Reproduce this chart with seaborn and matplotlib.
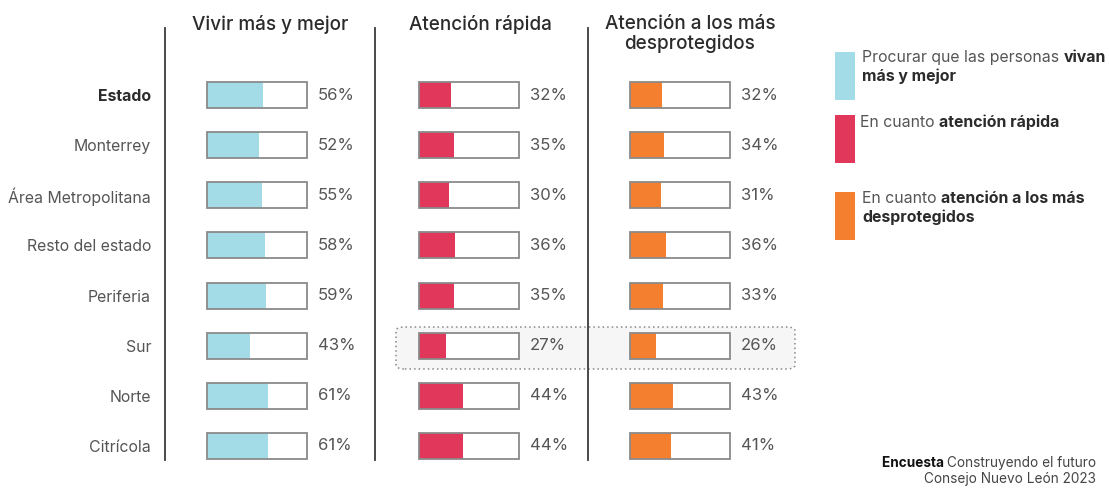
import matplotlib
matplotlib.use("Agg")
import matplotlib.pyplot as plt
from matplotlib.patches import FancyBboxPatch, Rectangle
import seaborn as sns
import pandas as pd

categories = ["Estado", "Monterrey", "Área Metropolitana", "Resto del estado",
              "Periferia", "Sur", "Norte", "Citrícola"]
vivir = [56, 52, 55, 58, 59, 43, 61, 61]
rapida = [32, 35, 30, 36, 35, 27, 44, 44]
desprot = [32, 34, 31, 36, 33, 26, 43, 41]
titles = ["Vivir más y mejor", "Atención rápida", "Atención a los más\ndesprotegidos"]
colors = ["#a3dbe6", "#e0375a", "#f47f2e"]
track_max = 100

sns.set_theme(style="white")
plt.rcParams['font.family'] = ['Inter', 'DejaVu Sans']

W, H = 1109, 488
fig = plt.figure(figsize=(W / 100, H / 100), dpi=100)
fig.patch.set_facecolor("white")

TXT = "#555555"
DARK = "#2b2b2b"


def fx(px):
    return px / W


def fy(py):
    return 1 - py / H


# highlight box around "Sur" row (panels 2 and 3)
hl = FancyBboxPatch((fx(396), fy(369)), fx(795) - fx(396), fy(327) - fy(369),
                    boxstyle="round,pad=0,rounding_size=0.008",
                    transform=fig.transFigure, facecolor="#f6f6f6",
                    edgecolor="#888888", linestyle=(0, (1, 2)), linewidth=1.1,
                    zorder=0)
fig.add_artist(hl)

# panel geometry in pixels: (left line, right edge, track start)
panels = [(165, 375, 207), (375, 588, 419), (588, 800, 630)]
top_px, bot_px = 28, 460
row0, row7 = 95, 446
sp = (row7 - row0) / 7
ylim_top = -(row0 - top_px) / sp
ylim_bot = 7 + (bot_px - row7) / sp
bar_h = 26 / sp

series = [vivir, rapida, desprot]
for i, ((l, r, t0), vals, col) in enumerate(zip(panels, series, colors)):
    ax = fig.add_axes([fx(l), fy(bot_px), fx(r) - fx(l), fy(top_px) - fy(bot_px)])
    ax.patch.set_alpha(0)
    df = pd.DataFrame({"cat": categories, "val": vals, "track": [track_max] * len(vals)})
    sns.barplot(data=df, y="cat", x="track", color="white", width=bar_h,
                orient="h", ax=ax, saturation=1, linewidth=0)
    sns.barplot(data=df, y="cat", x="val", color=col, width=bar_h,
                orient="h", ax=ax, saturation=1, linewidth=0)
    sns.barplot(data=df, y="cat", x="track", fill=False, width=bar_h,
                orient="h", ax=ax, edgecolor="#8a8a8a", linewidth=1.3)
    ax.set_xlim(-(t0 - l), r - t0)
    ax.set_ylim(ylim_bot, ylim_top)
    ax.set_xlabel("")
    ax.set_ylabel("")
    ax.set_xticks([])
    for s in ["top", "right", "bottom"]:
        ax.spines[s].set_visible(False)
    ax.spines["left"].set_color("#3a3a3a")
    ax.spines["left"].set_linewidth(1.3)
    for j, v in enumerate(vals):
        ax.text(track_max + 11, j, f"{v}%", va="center", ha="left",
                fontsize=12, color=TXT)
    if i == 0:
        ax.tick_params(axis="y", length=0, pad=10)
        ax.set_yticks(range(len(categories)))
        ax.set_yticklabels(categories, fontsize=11.4, color=TXT)
        lbls = ax.get_yticklabels()
        lbls[0].set_fontweight("bold")
        lbls[0].set_color(DARK)
    else:
        ax.set_yticks([])

# titles
TFS = 13.6
fig.text(fx(270), fy(24), titles[0], ha="center", va="center",
         fontsize=TFS, color=DARK, fontweight="medium")
fig.text(fx(480), fy(25), titles[1], ha="center", va="center",
         fontsize=TFS, color=DARK, fontweight="medium")
fig.text(fx(690), fy(34), titles[2], ha="center", va="center",
         fontsize=TFS, color=DARK, linespacing=1.1, fontweight="medium")

# legend
LFS = 11.4
leg = [
    (52, 100, "Procurar que las personas ", "vivan", 62, "más y mejor", 81, 862),
    (115, 163, "En cuanto ", "atención rápida", 127, None, None, 860),
    (192, 240, "En cuanto ", "atención a los más", 203, "desprotegidos", 222, 862),
]
for (y0, y1, t_norm, t_bold, ly, second, ly2, tx), col in zip(leg, colors):
    fig.add_artist(Rectangle((fx(835), fy(y1)), fx(855) - fx(835), fy(y0) - fy(y1),
                             transform=fig.transFigure, facecolor=col, edgecolor="none"))
    t1 = fig.text(fx(tx), fy(ly), t_norm, ha="left", va="baseline",
                  fontsize=LFS, color=TXT)
    plt.annotate(t_bold, xy=(1, 0), xycoords=t1, xytext=(0, 0),
                 textcoords="offset points", ha="left", va="bottom",
                 fontsize=LFS, color=DARK, fontweight="bold",
                 annotation_clip=False)
    if second:
        fig.text(fx(tx), fy(ly2), second, ha="left", va="baseline",
                 fontsize=LFS, color=DARK, fontweight="bold")

# footer
fs = 9.8
fig.text(fx(1096), fy(483), "Consejo Nuevo León 2023", ha="right",
         va="baseline", fontsize=fs, color="#444444")
l1b = fig.text(fx(1096), fy(467), "Construyendo el futuro", ha="right",
               va="baseline", fontsize=fs, color="#444444")
plt.annotate("Encuesta ", xy=(0, 0), xycoords=l1b, ha="right", va="bottom",
             fontsize=fs, color="#111111", fontweight="bold",
             annotation_clip=False)

fig.savefig("out.png", dpi=100, facecolor="white")
